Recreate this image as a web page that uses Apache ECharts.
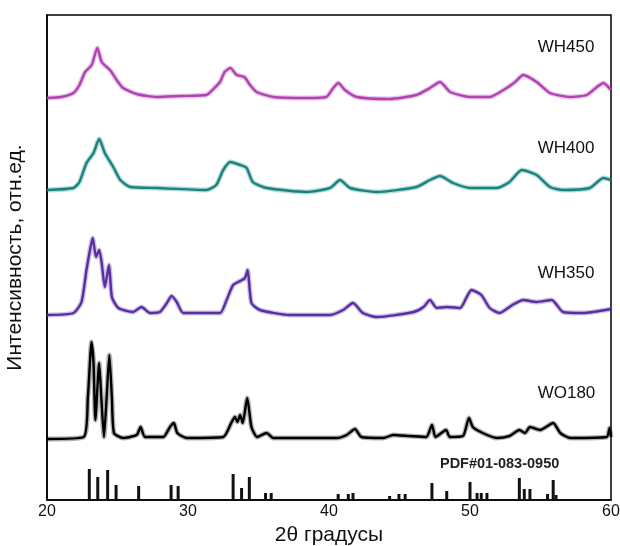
<!DOCTYPE html>
<html>
<head>
<meta charset="utf-8">
<script src="https://cdn.jsdelivr.net/npm/echarts@6/dist/echarts.min.js"></script>
<style>
  html, body { margin: 0; padding: 0; background: #fff; }
  #chart { width: 620px; height: 546px; }
</style>
</head>
<body>
<div id="chart"></div>
<script>
// 2θ, интенсивность (отн.ед., со сдвигом)
const wh450 = [[20, 402], [21, 403], [21.87, 407], [22.3, 415], [22.7, 428], [23.17, 435], [23.57, 452], [23.88, 438], [24.47, 430], [24.94, 420], [25.4, 412], [26.36, 406], [27.78, 403], [29.5, 404], [31.3, 405], [31.8, 411], [32.27, 418], [32.6, 428], [33.0, 432], [33.45, 425], [34.0, 423], [34.4, 415], [34.87, 408], [36.05, 403], [38.4, 402], [39.8, 403], [40.3, 412], [40.66, 417], [41.13, 410], [41.96, 403], [44.3, 401], [46.2, 405], [47.16, 412], [47.87, 418], [48.6, 408], [50.0, 403], [51.4, 403], [52.6, 412], [53.2, 418], [53.78, 425], [54.73, 418], [55.67, 407], [57.1, 403], [58.28, 405], [59.0, 413], [59.46, 417], [60, 410]]
const wh400 = [[20, 310], [21.87, 312], [22.3, 318], [22.8, 337], [23.3, 347], [23.7, 361], [24.1, 347], [24.7, 333], [25.2, 320], [25.9, 313], [27.78, 312], [31.3, 310], [32.0, 315], [32.5, 330], [33.0, 338], [33.7, 335], [34.16, 332], [34.6, 318], [35.58, 312], [38.4, 308], [40.07, 312], [40.78, 320], [41.5, 312], [43.4, 308], [46.2, 313], [47.16, 320], [47.87, 324], [48.8, 317], [50.0, 312], [51.9, 312], [52.8, 318], [53.67, 330], [54.73, 325], [55.67, 313], [56.6, 310], [58.5, 312], [59.46, 322], [60, 320]]
const wh350 = [[20, 185], [21.87, 187], [22.45, 198], [22.8, 230], [23.05, 250], [23.24, 262], [23.48, 243], [23.7, 250], [23.88, 237], [24.1, 213], [24.4, 235], [24.6, 203], [25.06, 192], [26.1, 188], [26.7, 193], [27.3, 187], [28.0, 188], [28.5, 197], [28.84, 204], [29.2, 198], [29.67, 187], [32.27, 187], [32.74, 200], [33.2, 215], [33.7, 219], [34.04, 222], [34.23, 230], [34.5, 197], [35.1, 190], [37.2, 185], [40.07, 185], [41.0, 190], [41.7, 197], [42.4, 187], [43.4, 183], [46.0, 188], [46.7, 193], [47.16, 200], [47.64, 192], [48.35, 193], [49.3, 192], [49.77, 203], [50.1, 210], [50.8, 205], [51.4, 192], [52.1, 187], [53.0, 195], [53.78, 200], [54.73, 198], [55.8, 200], [56.6, 188], [58.0, 187], [60, 191]]
const wo180 = [[20, 61], [22.6, 63], [22.9, 103], [23.16, 158], [23.3, 137], [23.43, 80], [23.7, 137], [23.85, 103], [24.04, 63], [24.23, 103], [24.42, 145], [24.6, 103], [24.75, 67], [25.4, 62], [26.36, 65], [26.64, 73], [26.95, 63], [28.25, 63], [28.6, 70], [28.77, 74], [29.0, 77], [29.24, 67], [29.9, 62], [32.5, 63], [33.1, 78], [33.33, 83], [33.5, 78], [33.7, 85], [33.88, 77], [34.2, 102], [34.5, 73], [34.9, 63], [35.58, 67], [36.05, 62], [40.55, 62], [41.25, 65], [41.84, 71], [42.3, 63], [43.85, 62], [44.56, 65], [45.7, 64], [46.9, 63], [47.3, 75], [47.56, 63], [48.3, 70], [48.57, 63], [49.5, 64], [49.93, 82], [50.2, 73], [50.9, 67], [51.9, 62], [52.8, 64], [53.5, 70], [53.9, 67], [54.25, 73], [54.96, 70], [55.9, 77], [56.4, 67], [57.1, 62], [59.7, 63], [59.9, 72], [60, 63]]
// штрих-диаграмма PDF#01-083-0950
const pdfLines = [[23.0, 31], [23.6, 23], [24.3, 30], [24.9, 15], [26.5, 14], [28.8, 15], [29.3, 14], [33.2, 26], [33.8, 12], [34.35, 23], [35.5, 7], [35.9, 7], [40.65, 6], [41.37, 6], [41.7, 7], [44.3, 4], [44.96, 6], [45.4, 6], [47.3, 17], [48.35, 9], [50.0, 18], [50.5, 7], [50.8, 7], [51.2, 7], [53.5, 22], [53.85, 11], [54.25, 11], [55.5, 6], [55.9, 20], [56.1, 5]]

const names = ['WH450', 'WH400', 'WH350', 'WO180']
const colors = ['#b241b2', '#16857e', '#5a2ea2', '#000000']
const labelPos = [[54.8, 453], [54.8, 352], [54.8, 227], [54.8, 107]]
const curves = [wh450, wh400, wh350, wo180]

const font = 'Liberation Sans, Arial, sans-serif'
const chart = echarts.init(document.getElementById('chart'))

const series = []
curves.forEach((d, i) => {
  // полупрозрачная "шумовая" подложка
  series.push({
    type: 'line',
    data: d,
    symbol: 'none',
    silent: true,
    smooth: 0.2,
    lineStyle: { color: colors[i], width: 5, opacity: 0.3 }
  })
  series.push({
    name: names[i],
    type: 'line',
    data: d,
    symbol: 'none',
    silent: true,
    smooth: 0.2,
    lineStyle: { color: colors[i], width: 2.4 },
    markPoint: {
      symbol: 'circle',
      symbolSize: 0,
      data: [{ coord: labelPos[i], value: names[i] }],
      label: {
        show: true,
        position: 'right',
        distance: 0,
        formatter: names[i],
        color: '#111',
        fontSize: 17,
        fontFamily: font
      }
    }
  })
})

series.push({
  type: 'bar',
  data: pdfLines,
  barWidth: 3,
  silent: true,
  itemStyle: { color: '#111' },
  markPoint: {
    symbol: 'circle',
    symbolSize: 0,
    data: [{ coord: [52.1, 36], value: 'PDF#01-083-0950' }],
    label: {
      show: true,
      position: 'inside',
      formatter: 'PDF#01-083-0950',
      color: '#222',
      fontSize: 14.5,
      fontWeight: 'bold',
      fontFamily: font
    }
  }
})

chart.setOption({
  animation: false,
  backgroundColor: '#fff',
  grid: {
    left: 47, right: 9, top: 15, bottom: 46,
    outerBoundsMode: 'none',
    show: true,
    borderColor: '#000',
    borderWidth: 1.5
  },
  xAxis: {
    type: 'value',
    min: 20,
    max: 60,
    interval: 10,
    name: '2θ градусы',
    nameLocation: 'middle',
    nameGap: 24,
    nameTextStyle: { fontSize: 21, color: '#111', fontFamily: font },
    axisLine: { lineStyle: { color: '#000', width: 1.5 } },
    axisTick: { show: false },
    splitLine: { show: false },
    axisLabel: { color: '#111', fontSize: 16, margin: 4, fontFamily: font }
  },
  yAxis: {
    type: 'value',
    min: 0,
    max: 485,
    name: 'Интенсивность, отн.ед.',
    nameLocation: 'middle',
    nameGap: 21,
    nameTextStyle: { fontSize: 21, color: '#111', fontFamily: font },
    axisLine: { show: true, lineStyle: { color: '#000', width: 1.5 } },
    axisTick: { show: false },
    axisLabel: { show: false },
    splitLine: { show: false }
  },
  series: series
})
</script>
</body>
</html>
